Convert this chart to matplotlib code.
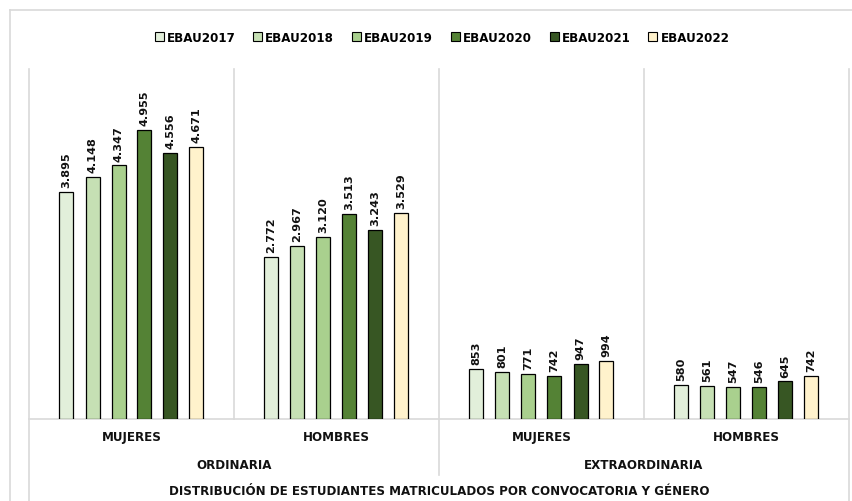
import matplotlib
matplotlib.use("Agg")
import matplotlib.pyplot as plt
from matplotlib.lines import Line2D
from matplotlib.patches import Patch
import matplotlib.transforms as mtransforms

plt.rcParams['font.family'] = ['DejaVu Sans']

series = ["EBAU2017", "EBAU2018", "EBAU2019", "EBAU2020", "EBAU2021", "EBAU2022"]
colors = ["#E2EFDA", "#C6E0B4", "#A9D08E", "#548235", "#375623", "#FFF2CC"]
genders = ["MUJERES", "HOMBRES", "MUJERES", "HOMBRES"]
convocatorias = ["ORDINARIA", "EXTRAORDINARIA"]
title = "DISTRIBUCIÓN DE ESTUDIANTES MATRICULADOS POR CONVOCATORIA Y GÉNERO"

ebau2017 = [3895, 2772, 853, 580]
ebau2018 = [4148, 2967, 801, 561]
ebau2019 = [4347, 3120, 771, 547]
ebau2020 = [4955, 3513, 742, 546]
ebau2021 = [4556, 3243, 947, 645]
ebau2022 = [4671, 3529, 994, 742]
values = [ebau2017, ebau2018, ebau2019, ebau2020, ebau2021, ebau2022]

txt = "#111111"
fig = plt.figure(figsize=(8.53, 5.02), dpi=100)
ax = fig.add_axes([29/853, 1-420/502, (849-29)/853, 350/502])
ax.set_xlim(0, 4)
ax.set_ylim(0, 6000)
for s in ax.spines.values():
    s.set_visible(False)
ax.set_xticks([])
ax.set_yticks([])

step = 26/205
width = 14/205
for i, (name, col, vals) in enumerate(zip(series, colors, values)):
    xs = [g + 0.5 + (i - 2.5) * step for g in range(4)]
    ax.bar(xs, vals, width=width, color=col, edgecolor="black", linewidth=0.9, zorder=3)
    for x, v in zip(xs, vals):
        lbl = f"{v:,}".replace(",", ".")
        ax.annotate(lbl, (x, v), xytext=(0, 3.5), textcoords="offset points",
                    rotation=90, ha="center", va="bottom", fontsize=8.1,
                    fontweight="bold", color=txt)

trans = mtransforms.blended_transform_factory(ax.transData, ax.transAxes)
grey = "#D9D9D9"
ax.plot([0, 4], [0, 0], transform=trans, color=grey, lw=1.2, clip_on=False, zorder=2)
ax.plot([1, 1], [0, 1], transform=trans, color=grey, lw=1.2, clip_on=False)
ax.plot([3, 3], [0, 1], transform=trans, color=grey, lw=1.2, clip_on=False)
ax.plot([2, 2], [-0.16, 1], transform=trans, color=grey, lw=1.2, clip_on=False)
ax.plot([0, 0], [-0.24, 1], transform=trans, color=grey, lw=1.2, clip_on=False)
ax.plot([4, 4], [-0.24, 1], transform=trans, color=grey, lw=1.2, clip_on=False)

for g, name in enumerate(genders):
    ax.text(g + 0.5, -0.05, name, transform=trans, ha="center", va="center",
            fontsize=8.6, fontweight="bold", color=txt)
for c, name in enumerate(convocatorias):
    ax.text(2 * c + 1, -0.13, name, transform=trans, ha="center", va="center",
            fontsize=8.6, fontweight="bold", color=txt)
ax.text(2, -0.203, title, transform=trans, ha="center", va="center",
        fontsize=8.6, fontweight="bold", color=txt)

# outer chart border
fig.add_artist(Line2D([10/853, 852/853], [1-11/502, 1-11/502], transform=fig.transFigure, color=grey, lw=1.2))
fig.add_artist(Line2D([10/853, 10/853], [0, 1-11/502], transform=fig.transFigure, color=grey, lw=1.2))

handles = [Patch(facecolor=c, edgecolor="black", linewidth=0.8) for c in colors]
fig.legend(handles, series, loc="center", bbox_to_anchor=(442/853, 1-38/502), ncol=6,
           frameon=False, handlelength=0.75, handleheight=0.75, handletextpad=0.25,
           columnspacing=1.5, prop={"weight": "bold", "size": 8.6})

fig.savefig("out.png", dpi=100)
